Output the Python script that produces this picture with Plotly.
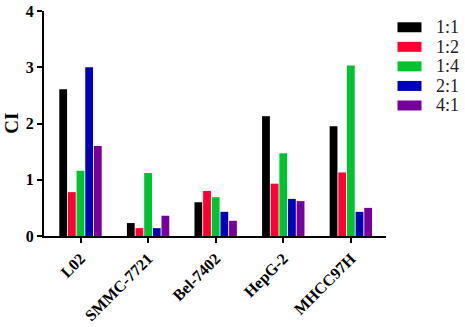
import plotly.graph_objects as go

categories = ["L02", "SMMC-7721", "Bel-7402", "HepG-2", "MHCC97H"]
series_names = ["1:1", "1:2", "1:4", "2:1", "4:1"]
s_1_1 = [2.61, 0.23, 0.60, 2.13, 1.95]
s_1_2 = [0.78, 0.14, 0.80, 0.93, 1.13]
s_1_4 = [1.16, 1.12, 0.69, 1.47, 3.03]
s_2_1 = [3.00, 0.14, 0.43, 0.66, 0.43]
s_4_1 = [1.60, 0.36, 0.27, 0.62, 0.50]
series_values = [s_1_1, s_1_2, s_1_4, s_2_1, s_4_1]
colors = ["#000000", "#FF0033", "#00C330", "#0000BB", "#77009A"]
y_ticks = [0, 1, 2, 3, 4]

W, H = 465, 327
ML, MR, MT, MB = 44, 79, 11, 90.5
PW, PH = W - ML - MR, H - MT - MB

fig = go.Figure()
for name, vals, col in zip(series_names, series_values, colors):
    fig.add_trace(go.Bar(x=categories, y=vals, name=name, marker_color=col,
                         marker_line_width=0, showlegend=False))

# manual legend with wide swatches
for i, (name, col) in enumerate(zip(series_names, colors)):
    yc = 27.3 + i * 19.6
    yp = (H - MB - yc) / PH
    hh = 5 / PH
    fig.add_shape(type="rect", xref="paper", yref="paper",
                  x0=(397.5 - ML) / PW, x1=(421.5 - ML) / PW,
                  y0=yp - hh, y1=yp + hh, fillcolor=col, line_width=0)
    fig.add_annotation(text=name, xref="paper", yref="paper",
                       x=(434 - ML) / PW, y=yp, xanchor="left", yanchor="middle",
                       showarrow=False,
                       font=dict(family="Liberation Serif", size=18, color="#222"))

fig.add_annotation(text="CI", xref="paper", yref="paper",
                   x=(12 - ML) / PW, y=(H - MB - 124) / PH, textangle=-90,
                   xanchor="center", yanchor="middle", showarrow=False,
                   font=dict(family="Liberation Serif", size=19, color="black",
                             weight="bold"))

fig.update_layout(
    width=W, height=H,
    margin=dict(l=ML, r=MR, t=MT, b=MB, autoexpand=False),
    paper_bgcolor="white", plot_bgcolor="white",
    barmode="group", bargap=0.36, bargroupgap=0.1,
    font=dict(family="Liberation Serif", color="black"),
    xaxis=dict(range=[-0.54, 4.52], showline=True, linecolor="black", linewidth=2,
               ticks="outside", ticklen=5, tickwidth=2, tickcolor="black",
               tickangle=-45, showgrid=False, automargin=False,
               tickfont=dict(family="Liberation Serif", size=16, color="black",
                             weight="bold")),
    yaxis=dict(range=[0, 4], tickvals=y_ticks, showline=True, linecolor="black",
               linewidth=2, ticks="outside", ticklen=5, tickwidth=2,
               tickcolor="black", showgrid=False, zeroline=False, automargin=False,
               tickfont=dict(family="Liberation Serif", size=16, color="black",
                             weight="bold")),
)

fig.write_html("out.html", config={"displayModeBar": False},
               post_script="document.body.style.margin='0';document.body.style.overflow='hidden';")
